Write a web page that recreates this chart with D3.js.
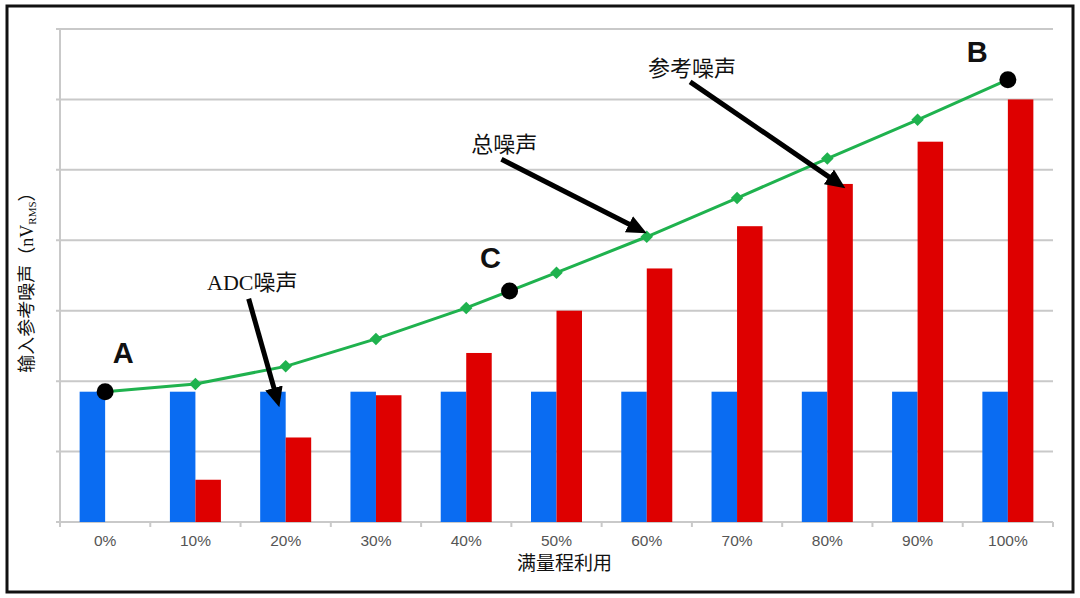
<!DOCTYPE html>
<html>
<head>
<meta charset="utf-8">
<script src="https://cdn.jsdelivr.net/npm/d3@7"></script>
<style>
  body { margin: 0; background: #fff; }
  svg { display: block; }
  .tick-label { font-family: "Liberation Sans", Arial, sans-serif; font-size: 15.5px; fill: #555; }
  .cn { font-family: "Liberation Serif", "Noto Sans CJK SC", serif; fill: #111; }
  .point-label { font-family: "Liberation Sans", Arial, sans-serif; font-weight: bold; font-size: 29px; fill: #111; }
</style>
</head>
<body>
<svg id="chart" width="1080" height="598"></svg>
<script>
// data (y in grid units x10)
var categories = ["0%", "10%", "20%", "30%", "40%", "50%", "60%", "70%", "80%", "90%", "100%"];
var utilisation = [0, 10, 20, 30, 40, 50, 60, 70, 80, 90, 100];
var adcNoise = [18.5, 18.5, 18.5, 18.5, 18.5, 18.5, 18.5, 18.5, 18.5, 18.5, 18.5];
var refNoise = [0, 6, 12, 18, 24, 30, 36, 42, 48, 54, 60];
var totalNoise = [18.5, 19.6, 22.1, 26.0, 30.4, 35.4, 40.5, 46.0, 51.6, 57.1, 62.8];
var yTicks = [0, 10, 20, 30, 40, 50, 60, 70];

// marked points A, B, C on the total-noise line
var markedPoints = [
  { label: "A", x: 0, y: 18.5, lx: 2.0, ly: 22.6 },
  { label: "B", x: 100, y: 62.8, lx: 96.6, ly: 65.3 },
  { label: "C", x: 44.8, y: 32.8, lx: 42.7, ly: 36.1 }
];

// callouts (data units): text anchor, arrow start, arrow tip
var callouts = [
  { text: "ADC噪声", tx: 16.3, ty: 32.9, x1: 15.9, y1: 31.7, x2: 19.3, y2: 16.3 },
  { text: "总噪声", tx: 44.2, ty: 52.5, x1: 43.9, y1: 51.5, x2: 60.0, y2: 41.0 },
  { text: "参考噪声", tx: 65.0, ty: 63.3, x1: 64.8, y1: 62.5, x2: 82.0, y2: 47.4 }
];

var colors = { adc: "#0a6cf2", ref: "#de0000", total: "#1fb24e" };

var params = {
  "plot": { "left": 60, "right": 1053, "top": 29, "bottom": 522 }
};

var svg = d3.select("#chart");

// outer frame
svg.append("rect")
  .attr("x", 7).attr("y", 6)
  .attr("width", 1066).attr("height", 586)
  .attr("fill", "none")
  .attr("stroke", "#111")
  .attr("stroke-width", 3);

var scale = {
  x: d3.scaleBand().domain(categories).range([params.plot.left, params.plot.right]).padding(0),
  y: d3.scaleLinear().domain([0, 70]).range([params.plot.bottom, params.plot.top])
};
scale.inner = d3.scaleBand().domain(["adc", "ref"]).range([0, scale.x.bandwidth()])
  .paddingInner(0).paddingOuter(0.77);
var half = scale.x.bandwidth() / 2;
scale.lin = d3.scaleLinear().domain([0, 100])
  .range([scale.x(categories[0]) + half, scale.x(categories[categories.length - 1]) + half]);

// gridlines
svg.append("g")
  .selectAll("line")
  .data(yTicks)
  .enter()
  .append("line")
  .attr("x1", params.plot.left - 4)
  .attr("x2", params.plot.right)
  .attr("y1", function(d) { return scale.y(d); })
  .attr("y2", function(d) { return scale.y(d); })
  .attr("stroke", "#c9c9c9")
  .attr("stroke-width", 2);

// y axis line
svg.append("line")
  .attr("x1", params.plot.left).attr("x2", params.plot.left)
  .attr("y1", params.plot.top).attr("y2", params.plot.bottom)
  .attr("stroke", "#c9c9c9")
  .attr("stroke-width", 2);

// x ticks at band edges
var edges = categories.map(function(c) { return scale.x(c); }).concat([params.plot.right]);
svg.append("g")
  .selectAll("line")
  .data(edges)
  .enter()
  .append("line")
  .attr("x1", function(d) { return d; })
  .attr("x2", function(d) { return d; })
  .attr("y1", params.plot.bottom)
  .attr("y2", params.plot.bottom + 5)
  .attr("stroke", "#c9c9c9")
  .attr("stroke-width", 2);

// bars
var groups = svg.append("g")
  .selectAll("g.cat")
  .data(categories.map(function(c, i) { return { cat: c, adc: adcNoise[i], ref: refNoise[i] }; }))
  .enter()
  .append("g")
  .attr("class", "cat")
  .attr("transform", function(d) { return "translate(" + scale.x(d.cat) + ",0)"; });

groups.selectAll("rect")
  .data(function(d) { return [{ key: "adc", v: d.adc }, { key: "ref", v: d.ref }]; })
  .enter()
  .append("rect")
  .attr("x", function(d) { return scale.inner(d.key); })
  .attr("width", scale.inner.bandwidth())
  .attr("y", function(d) { return scale.y(d.v); })
  .attr("height", function(d) { return scale.y(0) - scale.y(d.v); })
  .attr("fill", function(d) { return colors[d.key]; });

// tick labels
svg.append("g")
  .selectAll("text")
  .data(categories)
  .enter()
  .append("text")
  .attr("class", "tick-label")
  .attr("x", function(d) { return scale.x(d) + half; })
  .attr("y", 546)
  .attr("text-anchor", "middle")
  .text(function(d) { return d; });

// total noise line
var linePts = utilisation.map(function(u, i) { return [u, totalNoise[i]]; });
var line = d3.line()
  .x(function(d) { return scale.lin(d[0]); })
  .y(function(d) { return scale.y(d[1]); });

svg.append("path")
  .datum(linePts)
  .attr("d", line)
  .attr("fill", "none")
  .attr("stroke", colors.total)
  .attr("stroke-width", 3);

// diamond markers (rotated squares)
svg.append("g")
  .selectAll("path")
  .data(linePts.slice(1, linePts.length - 1))
  .enter()
  .append("path")
  .attr("d", d3.symbol().type(d3.symbolSquare).size(78))
  .attr("transform", function(d) { return "translate(" + scale.lin(d[0]) + "," + scale.y(d[1]) + ") rotate(45)"; })
  .attr("fill", colors.total);

// marked points
svg.append("g")
  .selectAll("circle")
  .data(markedPoints)
  .enter()
  .append("circle")
  .attr("cx", function(d) { return scale.lin(d.x); })
  .attr("cy", function(d) { return scale.y(d.y); })
  .attr("r", 8.5)
  .attr("fill", "#000");

svg.append("g")
  .selectAll("text")
  .data(markedPoints)
  .enter()
  .append("text")
  .attr("class", "point-label")
  .attr("x", function(d) { return scale.lin(d.lx); })
  .attr("y", function(d) { return scale.y(d.ly); })
  .attr("text-anchor", "middle")
  .text(function(d) { return d.label; });

// callouts with arrows
svg.append("defs").append("marker")
  .attr("id", "head")
  .attr("markerUnits", "userSpaceOnUse")
  .attr("viewBox", "0 0 20 18")
  .attr("markerWidth", 20)
  .attr("markerHeight", 18)
  .attr("refX", 8)
  .attr("refY", 9)
  .attr("orient", "auto")
  .append("path")
  .attr("d", "M0,0 L20,9 L0,18 Z")
  .attr("fill", "#000");

var arrows = svg.append("g");
callouts.forEach(function(c) {
  var x1 = scale.lin(c.x1), y1 = scale.y(c.y1);
  var x2 = scale.lin(c.x2), y2 = scale.y(c.y2);
  var len = Math.hypot(x2 - x1, y2 - y1);
  // stop the shaft short so the head lands on the tip
  var k = (len - 12) / len;
  arrows.append("line")
    .attr("x1", x1).attr("y1", y1)
    .attr("x2", x1 + (x2 - x1) * k).attr("y2", y1 + (y2 - y1) * k)
    .attr("stroke", "#000")
    .attr("stroke-width", 5)
    .attr("marker-end", "url(#head)");
  arrows.append("text")
    .attr("class", "cn")
    .attr("x", scale.lin(c.tx))
    .attr("y", scale.y(c.ty))
    .attr("text-anchor", "middle")
    .style("font-size", "22px")
    .text(c.text);
});

// axis titles
svg.append("text")
  .attr("class", "cn")
  .attr("x", (params.plot.left + params.plot.right) / 2 + 8)
  .attr("y", 570)
  .attr("text-anchor", "middle")
  .style("font-size", "19px")
  .text("满量程利用");

var ylab = svg.append("text")
  .attr("class", "cn")
  .attr("transform", "translate(33,278) rotate(-90)")
  .attr("text-anchor", "middle")
  .style("font-size", "18px");
ylab.append("tspan").text("输入参考噪声（nV");
ylab.append("tspan").attr("dy", 3).style("font-size", "11px").text("RMS");
ylab.append("tspan").attr("dy", -3).text("）");
</script>
</body>
</html>
